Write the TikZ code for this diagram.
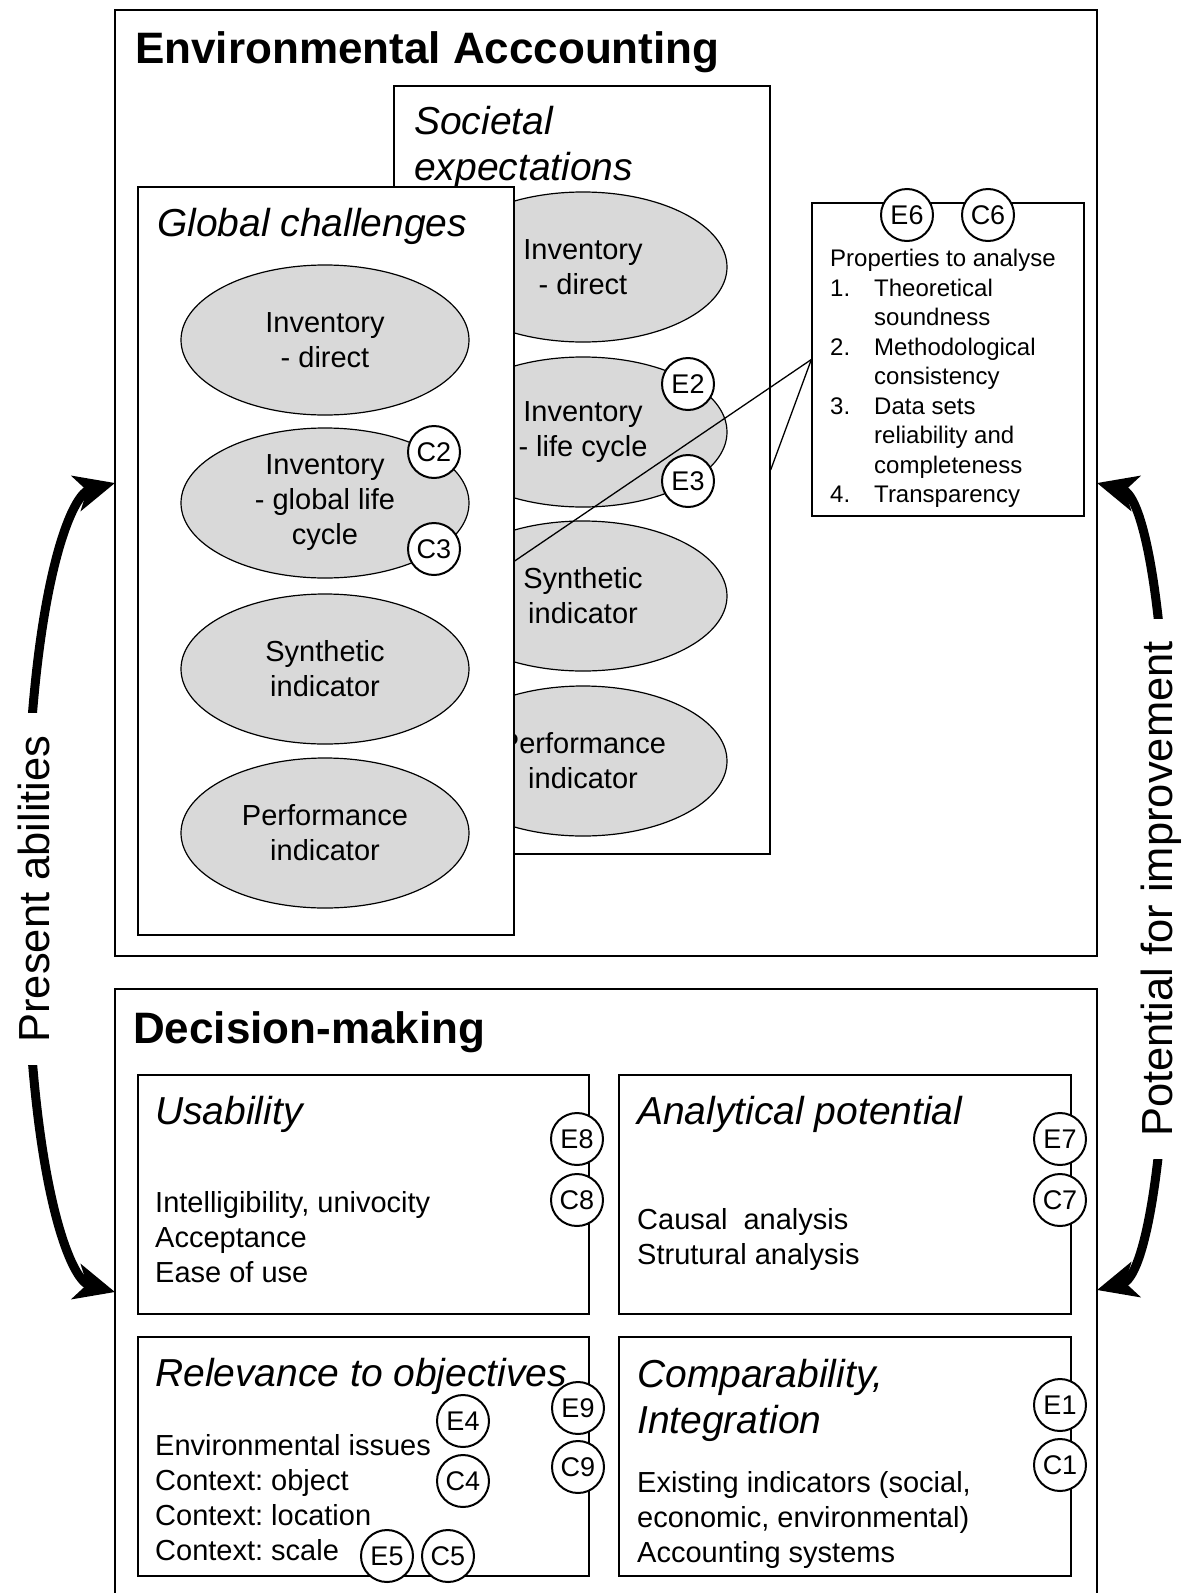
\documentclass[tikz,border=0pt]{standalone}
\usepackage{fontspec}
\setmainfont{Liberation Sans}
\usetikzlibrary{shapes.geometric,arrows.meta}
\newcommand{\titlefont}{\fontsize{44}{52}\selectfont\bfseries}
\newcommand{\headfont}{\fontsize{39}{46}\selectfont\itshape}
\newcommand{\bodyfont}{\fontsize{29}{35}\selectfont}
\newcommand{\propfont}{\fontsize{24}{29.5}\selectfont}
\newcommand{\tagfont}{\fontsize{27}{32}\selectfont}
\newcommand{\sidefont}{\fontsize{43.5}{50}\selectfont}
\frenchspacing

\begin{document}
\begin{tikzpicture}[x=1pt,y=-1pt,
    frame/.style={draw,line width=1.3pt,fill=white,inner sep=0pt},
    oval/.style={draw,ellipse,line width=1.2pt,fill=gray!30,minimum width=288pt,minimum height=150pt,inner sep=0pt,align=center,font=\bodyfont},
    tag/.style={draw,circle,line width=2pt,fill=white,minimum size=52pt,inner sep=0pt,font=\tagfont},
    title/.style={anchor=base west,inner sep=0pt,font=\titlefont},
    head/.style={anchor=west,inner sep=0pt,align=left,font=\headfont},
    body/.style={anchor=west,inner sep=0pt,align=left,font=\bodyfont},
    side/.style={fill=white,rotate=90,inner xsep=22pt,inner ysep=3pt,font=\sidefont},
    sidearrow/.style={line width=9pt,<->,>={Stealth[length=40pt,width=36pt,inset=11pt]}}]
    \useasboundingbox (0,0) rectangle (1192,1593);

    \node[frame,minimum width=982pt,minimum height=946pt] (envbox) at (606,483) {};
    \node[frame,minimum width=982pt,minimum height=611pt] (decbox) at (606,1294.5) {};
    \node[title] (envtitle) at (135,63) {Environmental Acccounting};
    \node[title] (dectitle) at (133,1043) {Decision-making};

    \node[frame,minimum width=376pt,minimum height=768pt] (soc) at (582,470) {};
    \node[head] (soctitle) at (414,147) {Societal\\expectations};
    \node[oval] (s1) at (583,267) {Inventory\\- direct};
    \node[oval] (s2) at (583,432) {Inventory\\- life cycle};
    \node[oval] (s3) at (583,596) {Synthetic\\indicator};
    \node[oval] (s4) at (583,761) {Performance\\indicator};
    \node[tag] (e2) at (688,384) {E2};
    \node[tag] (e3) at (688,481) {E3};

    \node[frame,minimum width=376pt,minimum height=748pt] (glob) at (326,561) {};
    \node[head] (globtitle) at (157,226) {Global challenges};
    \node[oval] (g1) at (325,340) {Inventory\\- direct};
    \node[oval] (g2) at (325,503) {Inventory\\- global life\\cycle};
    \node[oval] (g3) at (325,669) {Synthetic\\indicator};
    \node[oval] (g4) at (325,833) {Performance\\indicator};
    \node[tag] (c2) at (434,452) {C2};
    \node[tag] (c3) at (434,549) {C3};

    \node[frame,minimum width=272pt,minimum height=313pt] (props) at (948,359.5) {};
    \node[anchor=west,inner sep=0pt,font=\propfont] (proptext) at (830,379) {%
      \begin{tabular}{@{}p{44pt}@{}l@{}}
        \multicolumn{2}{@{}l@{}}{Properties to analyse}\\
        1. & Theoretical\\
           & soundness\\
        2. & Methodological\\
           & consistency\\
        3. & Data sets\\
           & reliability and\\
           & completeness\\
        4. & Transparency
      \end{tabular}};
    \node[tag] (e6) at (907,215) {E6};
    \node[tag] (c6) at (988,215) {C6};

    \draw[line width=1.3pt] (props.west) -- (soc.east);
    \draw[line width=1.3pt] (props.west) -- (glob.east);

    \node[frame,minimum width=451pt,minimum height=239pt] (usab) at (363.5,1194.5) {};
    \node[frame,minimum width=452pt,minimum height=239pt] (analy) at (845,1194.5) {};
    \node[frame,minimum width=451pt,minimum height=239pt] (relev) at (363.5,1456.5) {};
    \node[frame,minimum width=452pt,minimum height=239pt] (compar) at (845,1456.5) {};

    \node[head] (usabtitle) at (155,1114) {Usability};
    \node[head] (analytitle) at (637,1114) {Analytical potential};
    \node[head] (relevtitle) at (155,1376) {Relevance to objectives};
    \node[head] (compartitle) at (637,1400) {Comparability,\\Integration};

    \node[body] (usabtext) at (155,1237) {Intelligibility, univocity\\Acceptance\\Ease of use};
    \node[body] (analytext) at (637,1239) {Causal\ \ analysis\\Strutural analysis};
    \node[body] (relevtext) at (155,1498) {Environmental issues\\Context: object\\Context: location\\Context: scale};
    \node[body] (compartext) at (637,1520) {Existing indicators (social,\\economic, environmental)\\Accounting systems};

    \node[tag] (e8) at (577,1139) {E8};
    \node[tag] (c8) at (577,1200) {C8};
    \node[tag] (e7) at (1060,1139) {E7};
    \node[tag] (c7) at (1060,1200) {C7};
    \node[tag] (e9) at (578,1408) {E9};
    \node[tag] (c9) at (578,1467) {C9};
    \node[tag] (e4) at (463,1421) {E4};
    \node[tag] (c4) at (463,1481) {C4};
    \node[tag] (e5) at (387,1556) {E5};
    \node[tag] (c5) at (448,1556) {C5};
    \node[tag] (e1) at (1060,1405) {E1};
    \node[tag] (c1) at (1060,1465) {C1};

    \coordinate (lt) at (115,483);
    \coordinate (lm) at (26,888);
    \coordinate (lb) at (115,1292);
    \coordinate (rt) at (1097,483);
    \coordinate (rm) at (1170,888);
    \coordinate (rb) at (1097,1290);
    \draw[sidearrow] (lt) .. controls (70,495) and (26,600) .. (lm) .. controls (26,1176) and (70,1280) .. (lb);
    \draw[sidearrow] (rt) .. controls (1142,495) and (1170,600) .. (rm) .. controls (1170,1176) and (1142,1278) .. (rb);
    \node[side] (present) at (34,889) {Present abilities};
    \node[side] (potential) at (1161,889) {Potential for improvement};
\end{tikzpicture}
\end{document}
